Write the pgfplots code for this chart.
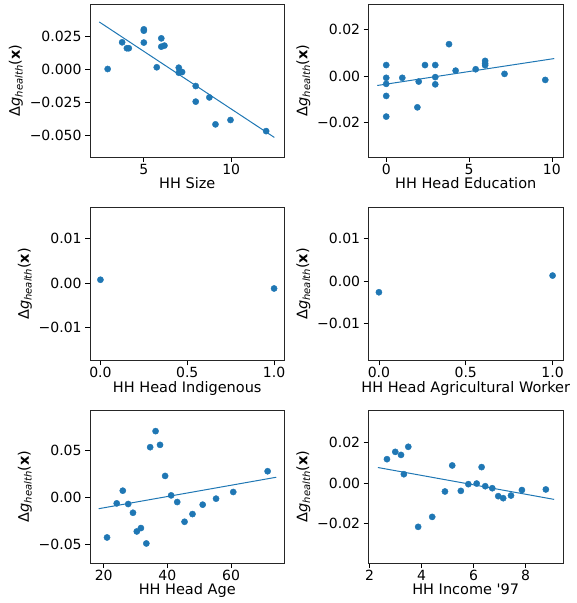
\documentclass[border=0pt]{standalone}
\usepackage{fontspec}
\setmainfont{DejaVu Sans}
\usepackage{pgfplots}
\pgfplotsset{compat=1.18}
\definecolor{mplblue}{HTML}{1F77B4}
\newcommand{\ylab}{Δ{\itshape g}\raisebox{-0.35ex}{\fontsize{10}{10}\selectfont\itshape health}(\textbf{x})}
\pgfplotsset{
  panel/.style={
    scale only axis, width=194.5pt, height=153pt, anchor=south west,
    axis line style={black!85, line width=0.8pt},
    tick align=outside, major tick length=4.9pt,
    tick style={black, line width=0.8pt},
    xtick pos=bottom, ytick pos=left,
    ticklabel style={font=\fontsize{14}{16}\selectfont},
    xticklabel style={yshift=1.5pt},
    label style={font=\fontsize{14.5}{16}\selectfont},
    xlabel style={yshift=3.5pt},
    scaled ticks=false,
    ylabel={\ylab},
    clip=false,
  },
  pts/.style={only marks, mark=*, mark size=3.1pt, color=mplblue, mark options={draw=mplblue, fill=mplblue}},
  fit/.style={no marks, color=mplblue, line width=1pt},
}
\begin{document}
\begin{tikzpicture}
\useasboundingbox (0pt,0pt) rectangle (577pt,603pt);
% Panel 1
\begin{axis}[panel, at={(90pt,446pt)},
  xmin=1.92, xmax=13.05, ymin=-0.0666, ymax=0.0492,
  xtick={5,10}, xticklabels={5,10},
  ytick={-0.05,-0.025,0,0.025}, yticklabels={−0.050,−0.025,0.000,0.025},
  xlabel={HH Size}]
\addplot[pts] coordinates {(2.93,0.000) (3.76,0.0202) (4.03,0.0157) (4.14,0.0157) (5.0,0.0300) (5.0,0.0290) (5.0,0.0200) (5.74,0.0013) (6.0,0.0232) (6.0,0.0169) (6.18,0.0177) (7.0,0.0010) (7.0,-0.0028) (7.19,-0.0023) (7.97,-0.0129) (7.97,-0.0247) (8.75,-0.0215) (9.1,-0.0419) (9.96,-0.0386) (12.0,-0.0470)};
\addplot[fit] coordinates {(2.45,0.0356) (12.47,-0.0518)};
\end{axis}
% Panel 2
\begin{axis}[panel, at={(368.5pt,446pt)},
  xmin=-1.07, xmax=10.67, ymin=-0.0348, ymax=0.0311,
  xtick={0,5,10}, xticklabels={0,5,10},
  ytick={-0.02,0,0.02}, yticklabels={−0.02,0.00,0.02},
  xlabel={HH Head Education}]
\addplot[pts] coordinates {(0,0.0048) (0,-0.0007) (0,-0.0033) (0,-0.0085) (0,-0.0174) (0.97,-0.0007) (1.96,-0.0023) (1.88,-0.0134) (2.34,0.0048) (2.96,0.0048) (2.96,-0.0004) (2.96,-0.0035) (3.79,0.0138) (4.19,0.0024) (5.4,0.0030) (5.97,0.0066) (5.97,0.0055) (5.97,0.0047) (7.14,0.0010) (9.6,-0.0016)};
\addplot[fit] coordinates {(-0.54,-0.0040) (10.14,0.0076)};
\end{axis}
% Panel 3
\begin{axis}[panel, at={(90pt,242.5pt)},
  xmin=-0.06, xmax=1.06, ymin=-0.0173, ymax=0.0169,
  xtick={0,0.5,1}, xticklabels={0.0,0.5,1.0},
  ytick={-0.01,0,0.01}, yticklabels={−0.01,0.00,0.01},
  xlabel={HH Head Indigenous}]
\addplot[pts] coordinates {(0,0.00075) (1,-0.0012)};
\end{axis}
% Panel 4
\begin{axis}[panel, at={(368.5pt,242.5pt)},
  xmin=-0.06, xmax=1.06, ymin=-0.0187, ymax=0.0174,
  xtick={0,0.5,1}, xticklabels={0.0,0.5,1.0},
  ytick={-0.01,0,0.01}, yticklabels={−0.01,0.00,0.01},
  xlabel={HH Head Agricultural Worker}]
\addplot[pts] coordinates {(0,-0.0026) (1,0.00134)};
\end{axis}
% Panel 5
\begin{axis}[panel, at={(90pt,40pt)},
  xmin=15.7, xmax=76.8, ymin=-0.0699, ymax=0.093,
  xtick={20,40,60}, xticklabels={20,40,60},
  ytick={-0.05,0,0.05}, yticklabels={−0.05,0.00,0.05},
  xlabel={HH Head Age}]
\addplot[pts] coordinates {(21.05,-0.0427) (24.1,-0.0064) (26.0,0.0071) (27.7,-0.0071) (29.2,-0.0164) (30.4,-0.0363) (31.7,-0.0327) (33.4,-0.0491) (34.6,0.0534) (36.3,0.0705) (37.7,0.0559) (39.3,0.0228) (41.2,0.0021) (43.1,-0.0050) (45.4,-0.0260) (47.9,-0.0178) (51.1,-0.0078) (55.3,-0.0014) (60.7,0.0057) (71.5,0.0278)};
\addplot[fit] coordinates {(18.4,-0.0121) (74.2,0.0214)};
\end{axis}
% Panel 6
\begin{axis}[panel, at={(368.5pt,40pt)},
  xmin=1.96, xmax=9.44, ymin=-0.0393, ymax=0.036,
  xtick={2,4,6,8}, xticklabels={2,4,6,8},
  ytick={-0.02,0,0.02}, yticklabels={−0.02,0.00,0.02},
  xlabel={HH Income \textquotesingle97}]
\addplot[pts] coordinates {(2.67,0.0118) (2.99,0.0154) (3.21,0.0139) (3.49,0.0179) (3.32,0.0044) (3.87,-0.0215) (4.41,-0.0166) (4.90,-0.0041) (5.18,0.0087) (5.51,-0.0038) (5.80,-0.0005) (6.12,-0.0002) (6.31,0.0079) (6.45,-0.0015) (6.72,-0.0025) (6.95,-0.0064) (7.14,-0.0074) (7.44,-0.0061) (7.86,-0.0034) (8.78,-0.0031)};
\addplot[fit] coordinates {(2.32,0.0077) (9.10,-0.0080)};
\end{axis}
\end{tikzpicture}
\end{document}
